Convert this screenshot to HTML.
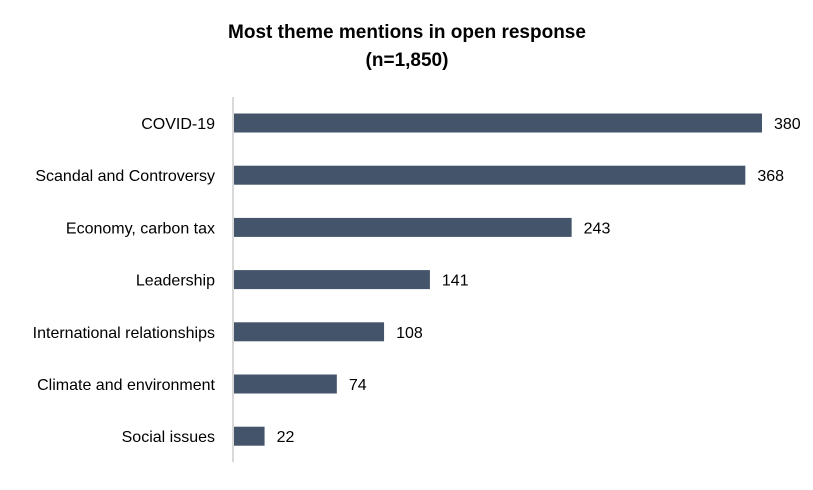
<!DOCTYPE html>
<html><head><meta charset="utf-8"><style>
body{margin:0;background:#fff;}
svg text{font-family:"Liberation Sans",Arial,sans-serif;}
</style></head><body>
<svg width="813" height="485">
<text x="407" y="38" text-anchor="middle" font-size="19" font-weight="bold" fill="#000">Most theme mentions in open response</text>
<text x="407" y="66" text-anchor="middle" font-size="19" font-weight="bold" fill="#000">(n=1,850)</text>
<line x1="233" y1="97" x2="233" y2="462" stroke="#d9d9d9" stroke-width="2"/>
<g id="bars"></g>
</svg>
<script>
const categories=["COVID-19","Scandal and Controversy","Economy, carbon tax","Leadership","International relationships","Climate and environment","Social issues"];
const values=[380,368,243,141,108,74,22];
const labels=["380","368","243","141","108","74","22"];
const x0=234, pxPer=(762-234)/380;
const xs=v=>x0+v*pxPer;
const yc=i=>123+i*52.2;
const g=document.getElementById('bars');
const ns="http://www.w3.org/2000/svg";
categories.forEach((c,i)=>{
 const r=document.createElementNS(ns,'rect');
 r.setAttribute('x',x0);r.setAttribute('y',yc(i)-9.5);
 r.setAttribute('width',xs(values[i])-x0);r.setAttribute('height',19);
 r.setAttribute('fill','#44546A');
 
 
 g.appendChild(r);
 const t=document.createElementNS(ns,'text');
 t.setAttribute('x',215);t.setAttribute('y',yc(i)+6);
 t.setAttribute('text-anchor','end');t.setAttribute('font-size','16');
 t.textContent=c;
 
 
 g.appendChild(t);
 const v=document.createElementNS(ns,'text');
 v.setAttribute('x',xs(values[i])+12);v.setAttribute('y',yc(i)+6);
 v.setAttribute('font-size','16');
 v.textContent=labels[i];
 
 
 g.appendChild(v);
});
</script>
</body></html>
